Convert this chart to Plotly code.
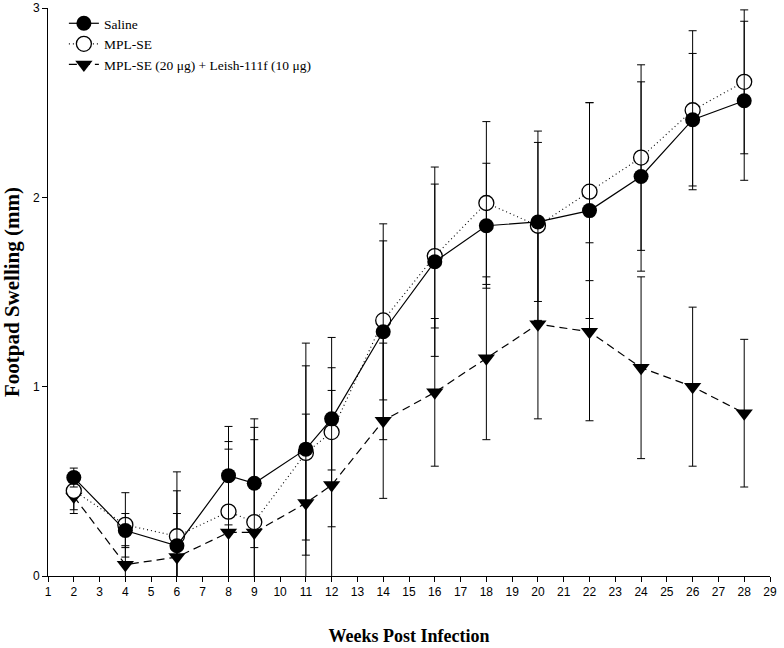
import plotly.graph_objects as go

weeks = [2, 4, 6, 8, 9, 11, 12, 14, 16, 18, 20, 22, 24, 26, 28]

saline = [0.52, 0.24, 0.16, 0.53, 0.49, 0.67, 0.83, 1.29, 1.66, 1.85, 1.87, 1.93, 2.11, 2.41, 2.51]
saline_err = [0.05, 0.09, 0.29, 0.26, 0.34, 0.56, 0.27, 0.57, 0.50, 0.33, 0.42, 0.57, 0.50, 0.35, 0.42]

mpl = [0.45, 0.27, 0.21, 0.34, 0.285, 0.65, 0.76, 1.35, 1.69, 1.97, 1.85, 2.03, 2.21, 2.46, 2.61]
mpl_err = [0.10, 0.17, 0.34, 0.37, 0.50, 0.46, 0.50, 0.42, 0.38, 0.43, 0.50, 0.47, 0.49, 0.42, 0.38]

combo = [0.42, 0.06, 0.10, 0.23, 0.23, 0.385, 0.48, 0.82, 0.97, 1.15, 1.33, 1.29, 1.10, 1.00, 0.86]
combo_err = [0.09, 0.10, 0.23, 0.44, 0.49, 0.47, 0.50, 0.41, 0.39, 0.43, 0.50, 0.47, 0.48, 0.42, 0.39]

names = ["Saline", "MPL-SE", "MPL-SE (20 \u03bcg) + Leish-111f (10 \u03bcg)"]
x_ticks = list(range(1, 30))
y_ticks = [0, 1, 2, 3]

fig = go.Figure()

def err(vals):
    return dict(type="data", array=vals, visible=True, color="black", thickness=1, width=4)

fig.add_trace(go.Scatter(
    x=weeks, y=combo, name=names[2], mode="lines+markers",
    line=dict(color="black", width=1.2, dash="8px,5px"),
    marker=dict(symbol="triangle-down", size=15, color="black"),
    error_y=err(combo_err), legendrank=3,
))
fig.add_trace(go.Scatter(
    x=weeks, y=mpl, name=names[1], mode="lines+markers",
    line=dict(color="black", width=1.1, dash="1px,3px"),
    marker=dict(symbol="circle", size=15, color="white", line=dict(color="black", width=1.3)),
    error_y=err(mpl_err), legendrank=2,
))
fig.add_trace(go.Scatter(
    x=weeks, y=saline, name=names[0], mode="lines+markers",
    line=dict(color="black", width=1.2),
    marker=dict(symbol="circle", size=15, color="black"),
    error_y=err(saline_err), legendrank=1,
))

fig.update_layout(
    width=784, height=648,
    margin=dict(l=48, r=14, t=8, b=72),
    paper_bgcolor="white", plot_bgcolor="white",
    showlegend=True,
    legend=dict(
        x=0.022, y=1.0, xanchor="left", yanchor="top",
        bgcolor="rgba(0,0,0,0)", borderwidth=0,
        font=dict(family="Liberation Serif, Times New Roman, serif", size=13.5, color="black"),
        tracegroupgap=0, itemwidth=30,
    ),
    xaxis=dict(
        range=[1, 29], tickmode="array", tickvals=x_ticks,
        ticktext=[str(v) for v in x_ticks],
        showline=True, linecolor="black", linewidth=1,
        ticks="outside", ticklen=5, tickcolor="black",
        showgrid=False, zeroline=False, automargin=False,
        tickfont=dict(family="Liberation Sans, Arial, sans-serif", size=12, color="black"),
        title=dict(text="<b>Weeks Post Infection</b>", standoff=30,
                   font=dict(family="Liberation Serif, Times New Roman, serif", size=18, color="black")),
    ),
    yaxis=dict(
        range=[0, 3], tickmode="array", tickvals=y_ticks,
        showline=True, linecolor="black", linewidth=1,
        ticks="outside", ticklen=5, tickcolor="black",
        showgrid=False, zeroline=False, automargin=False,
        tickfont=dict(family="Liberation Sans, Arial, sans-serif", size=12, color="black"),
        title=dict(text="<b>Footpad Swelling (mm)</b>", standoff=9,
                   font=dict(family="Liberation Serif, Times New Roman, serif", size=21, color="black")),
    ),
)

fig.write_html("out.html", config={"displayModeBar": False},
               post_script="document.body.style.margin='0';")
